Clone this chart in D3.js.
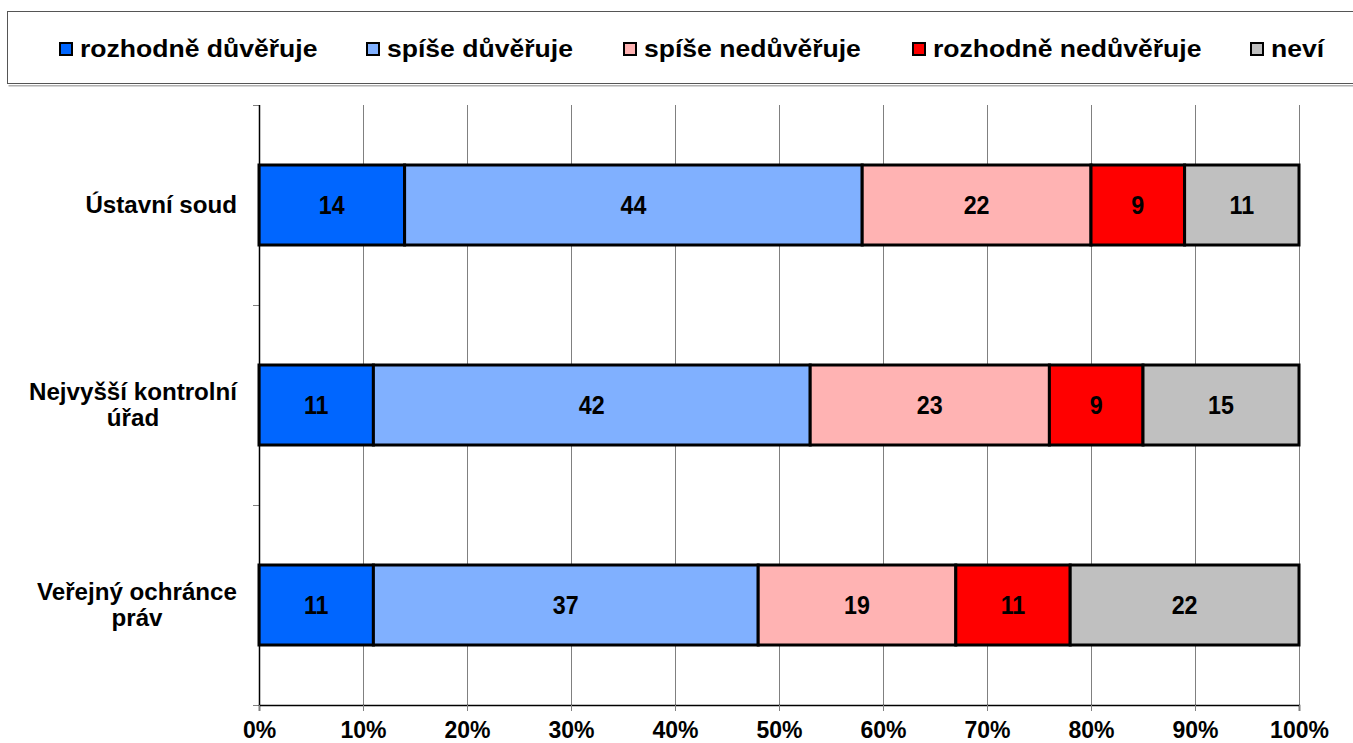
<!DOCTYPE html>
<html>
<head>
<meta charset="utf-8">
<script src="https://cdn.jsdelivr.net/npm/d3@7"></script>
<style>
  html, body { margin: 0; padding: 0; background: #fff; }
  svg { display: block; font-family: "Liberation Sans", Arial, Helvetica, sans-serif; font-weight: bold; }
</style>
</head>
<body>
<svg id="chart" width="1353" height="743"></svg>
<script>
// ---- data ----
const categories = ['Ústavní soud', 'Nejvyšší kontrolní úřad', 'Veřejný ochránce práv'];
const categoryLines = [['Ústavní soud'], ['Nejvyšší kontrolní', 'úřad'], ['Veřejný ochránce', 'práv']];
const seriesNames = ['rozhodně důvěřuje', 'spíše důvěřuje', 'spíše nedůvěřuje', 'rozhodně nedůvěřuje', 'neví'];
const seriesColors = ['#0066FF', '#80B0FF', '#FFB3B3', '#FF0000', '#C0C0C0'];
const values = [
  [14, 44, 22, 9, 11],
  [11, 42, 23, 9, 15],
  [11, 37, 19, 11, 22]
];
const tickValues = [0, 10, 20, 30, 40, 50, 60, 70, 80, 90, 100];

const svg = d3.select('#chart');

// plot area
const plotL = 259, plotR = 1299, plotT = 105, plotB = 705;

const x = d3.scaleLinear().domain([0, 100]).range([plotL, plotR]);
const y = d3.scaleBand().domain(categories).range([plotT, plotB])
  .paddingInner(0.6).paddingOuter(0.3);

// gridlines
svg.append('g')
  .selectAll('line')
  .data(tickValues.slice(1))
  .enter().append('line')
  .attr('x1', d => x(d) + 0.5).attr('x2', d => x(d) + 0.5)
  .attr('y1', plotT).attr('y2', plotB)
  .attr('stroke', '#808080').attr('stroke-width', 1);

// left axis ticks at category boundaries
const bounds = [plotT, plotT + y.step(), plotT + 2 * y.step(), plotB];
svg.append('g')
  .selectAll('line')
  .data(bounds)
  .enter().append('line')
  .attr('x1', plotL - 6).attr('x2', plotL)
  .attr('y1', d => d + 0.5).attr('y2', d => d + 0.5)
  .attr('stroke', '#808080').attr('stroke-width', 1);

// stacked bars
const stacks = values.map((row, ci) => {
  let acc = 0;
  return row.map((v, si) => {
    const s = { cat: categories[ci], series: si, x0: acc, x1: acc + v, v };
    acc += v;
    return s;
  });
}).flat();

svg.append('g')
  .selectAll('rect')
  .data(stacks)
  .enter().append('rect')
  .attr('x', d => x(d.x0))
  .attr('y', d => y(d.cat))
  .attr('width', d => x(d.x1) - x(d.x0))
  .attr('height', y.bandwidth())
  .attr('fill', d => seriesColors[d.series])
  .attr('stroke', '#000')
  .attr('stroke-width', 3);

// value labels (slightly condensed, like the original)
svg.append('g')
  .selectAll('text')
  .data(stacks)
  .enter().append('text')
  .attr('transform', d => `translate(${(x(d.x0) + x(d.x1)) / 2},${y(d.cat) + y.bandwidth() / 2 + 9}) scale(0.93,1)`)
  .attr('text-anchor', 'middle')
  .attr('font-size', 25)
  .attr('fill', '#000')
  .text(d => d.v);

// axes lines
svg.append('line')
  .attr('x1', plotL + 0.5).attr('x2', plotL + 0.5)
  .attr('y1', plotT).attr('y2', plotB)
  .attr('stroke', '#000').attr('stroke-width', 1.5);

const xAxis = svg.append('g')
  .attr('transform', `translate(0,${plotB})`)
  .call(d3.axisBottom(x).tickValues(tickValues).tickSize(6).tickFormat(d => d + '%'));
xAxis.attr('font-family', null).attr('font-size', null);
xAxis.select('.domain').attr('stroke', '#000').attr('stroke-width', 1.5);
xAxis.selectAll('.tick line').attr('stroke', '#808080');
xAxis.selectAll('.tick text')
  .attr('font-size', 23).attr('fill', '#000')
  .attr('dy', 0).attr('y', 33);

// category labels (multi-line centred within block, block right-aligned)
const labelRight = 237;
const labelStretch = 1.05;
categories.forEach((c, i) => {
  const lines = categoryLines[i];
  const cy = y(c) + y.bandwidth() / 2;
  const lh = 26;
  const texts = lines.map((ln, j) => svg.append('text')
    .attr('font-size', 23)
    .attr('text-anchor', 'middle')
    .text(ln));
  const w = d3.max(texts, t => t.node().getComputedTextLength()) * labelStretch;
  texts.forEach((t, j) => t.attr('transform',
    `translate(${labelRight - w / 2},${cy + 8 + (j - (lines.length - 1) / 2) * lh}) scale(${labelStretch},1)`));
});

// legend box
svg.append('rect')
  .attr('x', 8.5).attr('y', 85)
  .attr('width', 1350).attr('height', 1.5)
  .attr('fill', '#b0b0b0');
svg.append('rect')
  .attr('x', 7.5).attr('y', 11.5)
  .attr('width', 1350).attr('height', 72)
  .attr('fill', '#fff')
  .attr('stroke', '#555').attr('stroke-width', 1);

const legendX = [59, 366, 623, 912, 1250];
const legend = svg.append('g')
  .selectAll('g')
  .data(seriesNames)
  .enter().append('g')
  .attr('transform', (d, i) => `translate(${legendX[i]},0)`);

legend.append('rect')
  .attr('x', 1).attr('y', 43)
  .attr('width', 12).attr('height', 12)
  .attr('fill', (d, i) => seriesColors[i])
  .attr('stroke', '#000').attr('stroke-width', 2);

legend.append('text')
  .attr('transform', 'translate(21,57) scale(1.155,1)')
  .attr('font-size', 23)
  .text(d => d);
</script>
</body>
</html>
